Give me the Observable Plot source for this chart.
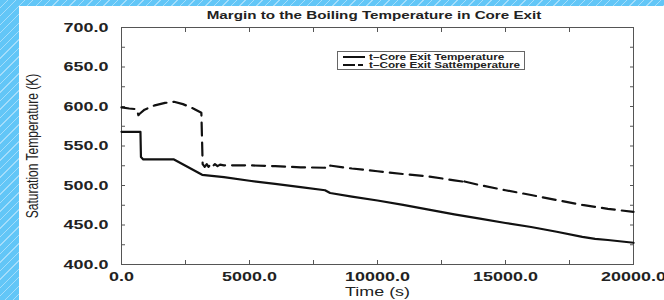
<!DOCTYPE html>
<html><head><meta charset="utf-8">
<script src="https://cdn.jsdelivr.net/npm/d3@7"></script>
<script src="https://cdn.jsdelivr.net/npm/@observablehq/plot@0.6"></script>
<style>
html,body{margin:0;padding:0;width:664px;height:300px;overflow:hidden;}
body{position:relative;background:#62c6f7 repeating-linear-gradient(135deg,#62c6f7 0 5px,#a4ddfb 5px 6px);font-family:"Liberation Sans",Arial,sans-serif;}
#panel{position:absolute;left:19px;top:6px;right:0;bottom:0;background:#fff;}
#title{position:absolute;left:374px;top:9px;transform:translateX(-50%) scaleX(1.38);font-size:11px;font-weight:bold;line-height:12px;white-space:nowrap;color:#222;}
#chart{position:absolute;left:0;top:0;}
#legend{position:absolute;left:337px;top:51px;overflow:visible;}
</style></head><body>
<div id="panel"></div>
<div id="title"></div>
<div id="chart"></div>
<svg id="legend" width="188" height="19"></svg>
<script>
// ---- text ----
const titleText = "Margin to the Boiling Temperature in Core Exit";
const xLabel = "Time (s)";
const yLabel = "Saturation Temperature (K)";
const seriesNames = ["t\u2013Core Exit Temperature", "t\u2013Core Exit Sattemperature"];

// ---- scales / ticks ----
const xDomain = [0, 20000];
const yDomain = [400, 700];
const xTicks = [0, 2500, 5000, 7500, 10000, 12500, 15000, 17500, 20000];
const xTickLabels = [0, 5000, 10000, 15000, 20000];
const yTicks = [400, 425, 450, 475, 500, 525, 550, 575, 600, 625, 650, 675, 700];
const yTickLabels = [400, 450, 500, 550, 600, 650, 700];

// ---- series: Core Exit Temperature (solid) ----
const timeExit = [0, 740, 760, 850, 2050, 3150, 4000, 5000, 6000, 7000, 7950, 8150, 9000, 10000, 11000, 12000, 13000, 14000, 15000, 16000, 17000, 18000, 18500, 19000, 20000];
const tempExit = [568, 568, 536, 533, 533, 513.5, 510.5, 506, 502, 498, 494, 490.5, 486, 481, 475.5, 469.5, 463.5, 458, 452.5, 447.5, 441.5, 435, 432.5, 431, 427.5];

// ---- series: Core Exit Saturation temperature (dashed) ----
const timeSat = [0, 300, 600, 660, 700, 900, 1300, 1700, 2050, 2400, 2800, 3120, 3170, 3250, 3330, 3400, 3480, 3550, 3650, 3750, 3850, 4000, 5000, 6000, 7000, 7950, 8000, 8200, 9000, 10000, 11000, 12000, 13000, 13330, 13360, 13400, 14000, 15000, 16000, 17000, 18000, 19000, 20000];
const tempSat = [599, 597.5, 596.5, 589, 590.5, 596, 601.5, 604.5, 606, 603, 597.5, 592, 527, 523.5, 527, 523.5, 527, 524, 527, 524.5, 526.5, 525.5, 525.5, 524.5, 523, 522.5, 526, 525, 521.5, 518, 514.5, 511.5, 506.5, 505, 509, 505, 500.5, 494, 488, 481.5, 475.5, 470.5, 466.5];

const exitData = timeExit.map((t, i) => ({t, T: tempExit[i]}));
const satData = timeSat.map((t, i) => ({t, T: tempSat[i]}));

const STRETCH = 1.38;
const fmt = d3.format(".1f");
const labelSet = new Set(yTickLabels);
const xLabelSet = new Set(xTickLabels);

document.getElementById("title").textContent = titleText;

const plot = Plot.plot({
  width: 664, height: 300,
  marginLeft: 121, marginRight: 31, marginTop: 27, marginBottom: 36,
  style: {background: "transparent", fontFamily: '"Liberation Sans", Arial, sans-serif', fontSize: "13px", fontWeight: "bold", color: "#222", overflow: "visible"},
  x: {domain: xDomain},
  y: {domain: yDomain},
  marks: [
    Plot.frame({stroke: "#555"}),
    Plot.axisY(yTicks, {anchor: "left", tickSize: -4, tickPadding: 17, stroke: "#555", label: null,
      tickFormat: d => labelSet.has(d) ? fmt(d) : ""}),
    Plot.axisY(yTicks, {anchor: "right", tickSize: -4, stroke: "#555", label: null, tickFormat: () => ""}),
    Plot.axisX(xTicks, {anchor: "bottom", tickSize: -4, tickPadding: 11, stroke: "#555", label: null,
      tickFormat: d => xLabelSet.has(d) ? fmt(d) : ""}),
    Plot.axisX(xTicks, {anchor: "top", tickSize: -4, stroke: "#555", label: null, tickFormat: () => ""}),
    Plot.axisY([], {anchor: "left", label: yLabel, labelAnchor: "center", labelOffset: 94, labelArrow: "none", fontWeight: "normal", fontSize: 12}),
    Plot.axisX([], {anchor: "bottom", label: xLabel, labelAnchor: "center", labelOffset: 31, labelArrow: "none", fontWeight: "normal", fontSize: 13}),
    Plot.line(exitData, {x: "t", y: "T", stroke: "#111", strokeWidth: 2.2}),
    Plot.line(satData, {x: "t", y: "T", stroke: "#111", strokeWidth: 2.2, strokeDasharray: "13,7"})
  ]
});
document.getElementById("chart").appendChild(plot);

// horizontal stretch of the text, as in the reference picture
const NS = "http://www.w3.org/2000/svg";
plot.querySelectorAll("text").forEach(t => {
  if (!t.textContent.trim()) { t.remove(); return; }
  const r = t.getBoundingClientRect();
  const a = getComputedStyle(t).textAnchor;
  const rotated = /rotate/.test(t.getAttribute("transform") || "");
  const px = rotated || a === "middle" ? (r.left + r.right) / 2 : a === "end" ? r.right : r.left;
  const m = t.parentNode.getScreenCTM();
  const p = (px - m.e) / m.a;
  const g = document.createElementNS(NS, "g");
  g.setAttribute("transform", `translate(${p},0) scale(${STRETCH},1) translate(${-p},0)`);
  t.parentNode.insertBefore(g, t);
  g.appendChild(t);
});

// legend
const lg = d3.select("#legend");
lg.append("rect").attr("x", 0.5).attr("y", 0.5).attr("width", 187).attr("height", 18)
  .attr("fill", "#fff").attr("stroke", "#666");
const rows = [{name: seriesNames[0], dash: null, y: 6}, {name: seriesNames[1], dash: "12,3,5,20", y: 14}];
rows.forEach(row => {
  lg.append("line").attr("x1", 6).attr("x2", 28).attr("y1", row.y).attr("y2", row.y)
    .attr("stroke", "#111").attr("stroke-width", 2).attr("stroke-dasharray", row.dash);
  lg.append("text").attr("transform", `translate(32,${row.y}) scale(${STRETCH},1)`)
    .attr("dominant-baseline", "central").attr("font-size", 8.5).attr("font-weight", "bold")
    .attr("font-family", '"Liberation Sans", Arial, sans-serif').attr("fill", "#222").text(row.name);
});
</script>
</body></html>
